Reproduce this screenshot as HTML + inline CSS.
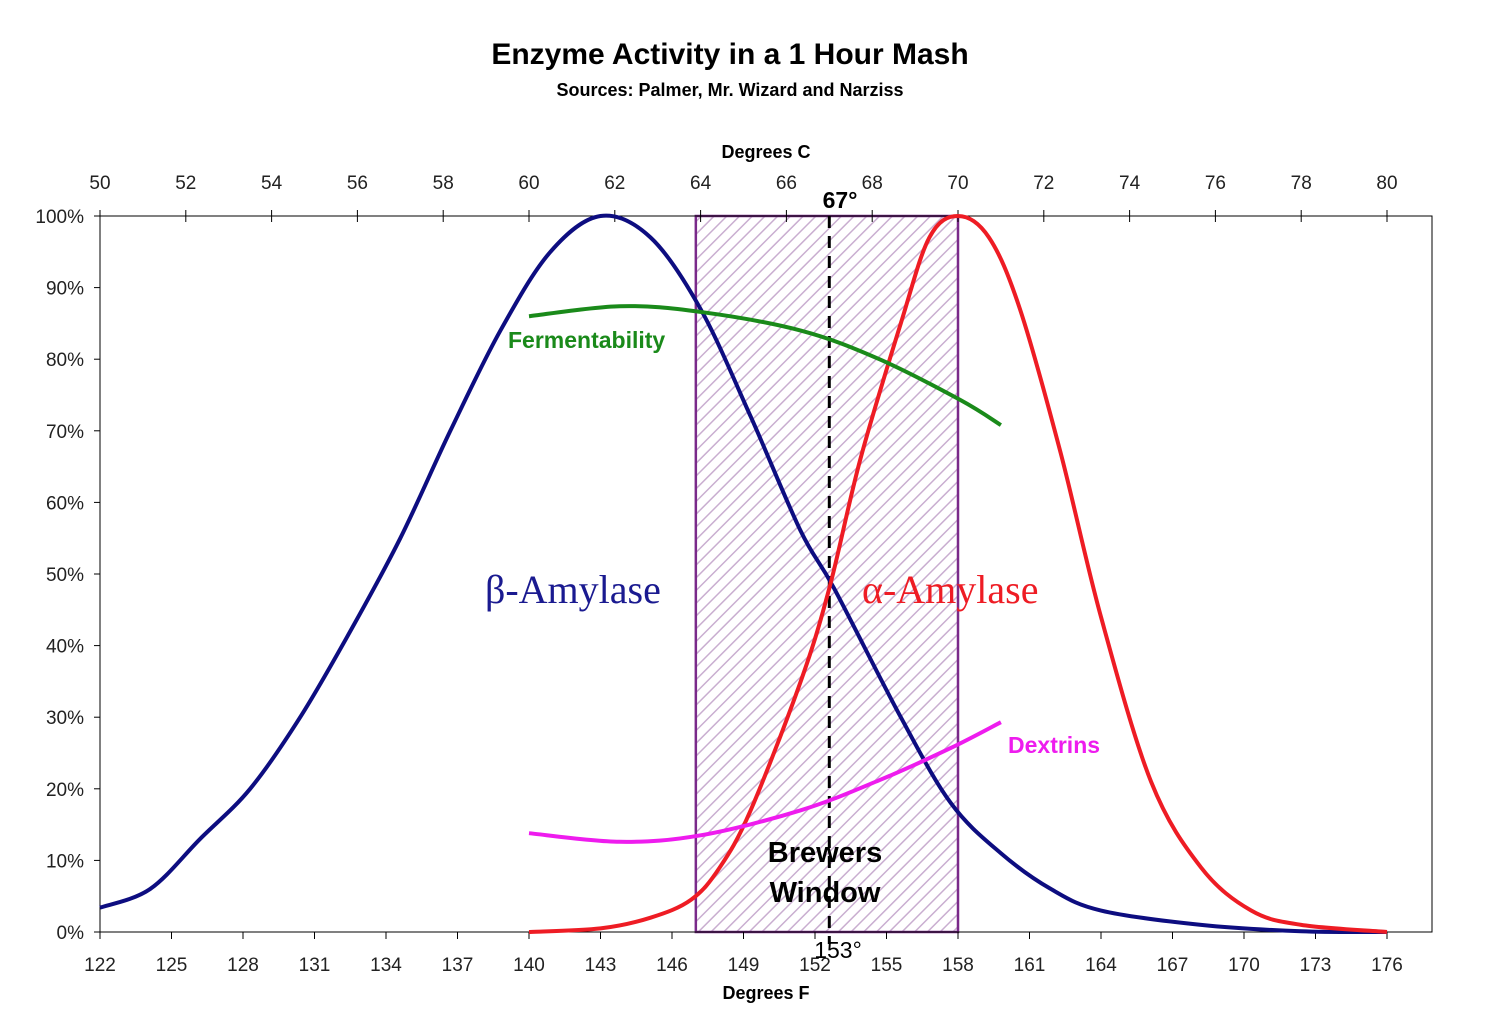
<!DOCTYPE html>
<html><head><meta charset="utf-8"><style>
body{margin:0;background:#fff}
svg{display:block;font-family:"Liberation Sans",Arial,sans-serif}
</style></head><body>
<svg id="c" width="1500" height="1027" viewBox="0 0 1500 1027">
<defs><pattern id="hatch" width="9" height="9" patternUnits="userSpaceOnUse" patternTransform="rotate(45)"><rect width="9" height="9" fill="#fff"/><line x1="0" y1="0" x2="0" y2="9" stroke="#c9aed0" stroke-width="3"/></pattern></defs>
<text x="730" y="64" text-anchor="middle" font-size="30" font-weight="bold">Enzyme Activity in a 1 Hour Mash</text>
<text x="730" y="96" text-anchor="middle" font-size="18" font-weight="bold">Sources: Palmer, Mr. Wizard and Narziss</text>
<text x="766" y="158" text-anchor="middle" font-size="18" font-weight="bold">Degrees C</text>
<text x="766" y="999" text-anchor="middle" font-size="18" font-weight="bold">Degrees F</text>
<g id="plot"></g>
</svg>
<script>
const betaF=[122,124.1,126.2,128.3,130.4,132.5,134.6,136.7,138.8,140.9,143,145.1,147.2,149.3,151.4,152.8,155.6,157.7,159.8,161.9,164,168.2,172.4,176];
const betaV=[3.4,6,13,20,30,42,55,70,84,95,100,97,87,72,56,48,30,18,11,6,3,1,0.1,0];
const alphaF=[140,143,145.1,146.8,148,149.3,151.4,152.6,153.9,155.6,156.8,158,159.3,160.6,162.3,164,166.1,168.2,170.3,172.4,176];
const alphaV=[0,0.5,2,4.5,9,17,35,48,66,85,97,100,97,87,67,44,21,9,3,1,0];
const fermF=[140,143.8,147.2,151.4,154.7,158.1,159.8];
const fermV=[86,87.4,86.6,84,80,74.3,70.8];
const dexF=[140,143.8,147.2,151.4,154.7,157.7,159.8];
const dexV=[13.8,12.6,13.5,17,21.2,25.7,29.3];
const fTicks=[122,125,128,131,134,137,140,143,146,149,152,155,158,161,164,167,170,173,176];
const cTicks=[50,52,54,56,58,60,62,64,66,68,70,72,74,76,78,80];
const yTicks=[0,10,20,30,40,50,60,70,80,90,100];
const windowF=[147,158];
const markF=152.6;

const L=100,R=1432,T=216,B=932;
const xF=f=>L+(f-122)*(1387-100)/54;
const xC=c=>xF(c*9/5+32);
const y=v=>B-(v/100)*(B-T);
const g=document.getElementById('plot');
const NS='http://www.w3.org/2000/svg';
function el(t,a,txt){const e=document.createElementNS(NS,t);for(const k in a)e.setAttribute(k,a[k]);if(txt!==undefined)e.textContent=txt;g.appendChild(e);return e;}

const w=el('rect',{x:xF(windowF[0]),y:T,width:xF(windowF[1])-xF(windowF[0]),height:B-T,fill:'url(#hatch)',stroke:'#7a2a8a','stroke-width':2.5});


const fr=el('rect',{x:L,y:T,width:R-L,height:B-T,fill:'none',stroke:'#000','stroke-width':1});


const dl=el('line',{x1:xF(markF),x2:xF(markF),y1:T,y2:B+12,stroke:'#000','stroke-width':3,'stroke-dasharray':'12,8'});



yTicks.forEach(v=>{
 const t=el('line',{x1:L-6,x2:L,y1:y(v),y2:y(v),stroke:'#000'});
 
 
 const l=el('text',{x:L-16,y:y(v)+7,'text-anchor':'end','font-size':19,fill:'#222'},v+'%');
 
 
});
fTicks.forEach(f=>{
 const t=el('line',{x1:xF(f),x2:xF(f),y1:B,y2:B+7,stroke:'#000'});
 
 
 const l=el('text',{x:xF(f),y:B+39,'text-anchor':'middle','font-size':19,fill:'#222'},f);
 
 
});
cTicks.forEach(c=>{
 const t=el('line',{x1:xC(c),x2:xC(c),y1:T-6,y2:T+6,stroke:'#000'});
 
 
 const l=el('text',{x:xC(c),y:T-27,'text-anchor':'middle','font-size':19,fill:'#222'},c);
 
 
});

function curve(F,V,color,name){
 const p=F.map((f,i)=>[xF(f),y(V[i])]);
 let d='M'+p[0][0]+','+p[0][1];
 for(let i=0;i<p.length-1;i++){
  const p0=p[i-1]||p[i],p1=p[i],p2=p[i+1],p3=p[i+2]||p2;
  d+=` C${p1[0]+(p2[0]-p0[0])/6},${p1[1]+(p2[1]-p0[1])/6} ${p2[0]-(p3[0]-p1[0])/6},${p2[1]-(p3[1]-p1[1])/6} ${p2[0]},${p2[1]}`;
 }
 const e=el('path',{d:d,fill:'none',stroke:color,'stroke-width':4,'stroke-linejoin':'round'});
 
 
}
curve(betaF,betaV,'#0d0d80','beta-amylase-line');
curve(alphaF,alphaV,'#ee1c24','alpha-amylase-line');
curve(fermF,fermV,'#1a8a1a','fermentability-line');
curve(dexF,dexV,'#ee1cee','dextrins-line');

function label(x,yy,txt,attrs,name){
 const e=el('text',Object.assign({x:x,y:yy},attrs),txt);
 
 
}
label(485,603,'β-Amylase',{'font-size':40,fill:'#1a1a90','font-family':'"Liberation Serif",serif'},'beta-amylase-label');
label(862,603,'α-Amylase',{'font-size':40,fill:'#ee1c24','font-family':'"Liberation Serif",serif'},'alpha-amylase-label');
label(508,348,'Fermentability',{'font-size':23,'font-weight':'bold',fill:'#1a8a1a'},'fermentability-label');
label(1008,753,'Dextrins',{'font-size':23,'font-weight':'bold',fill:'#ee1cee'},'dextrins-label');
label(825,862,'Brewers',{'font-size':29,'font-weight':'bold','text-anchor':'middle'},'brewers-label');
label(825,902,'Window',{'font-size':29,'font-weight':'bold','text-anchor':'middle'},'window-label');
label(840,208,'67°',{'font-size':23,'font-weight':'bold','text-anchor':'middle'},'celsius-marker-label');
label(838,958,'153°',{'font-size':23,'text-anchor':'middle'},'fahrenheit-marker-label');
</script>
</body></html>
